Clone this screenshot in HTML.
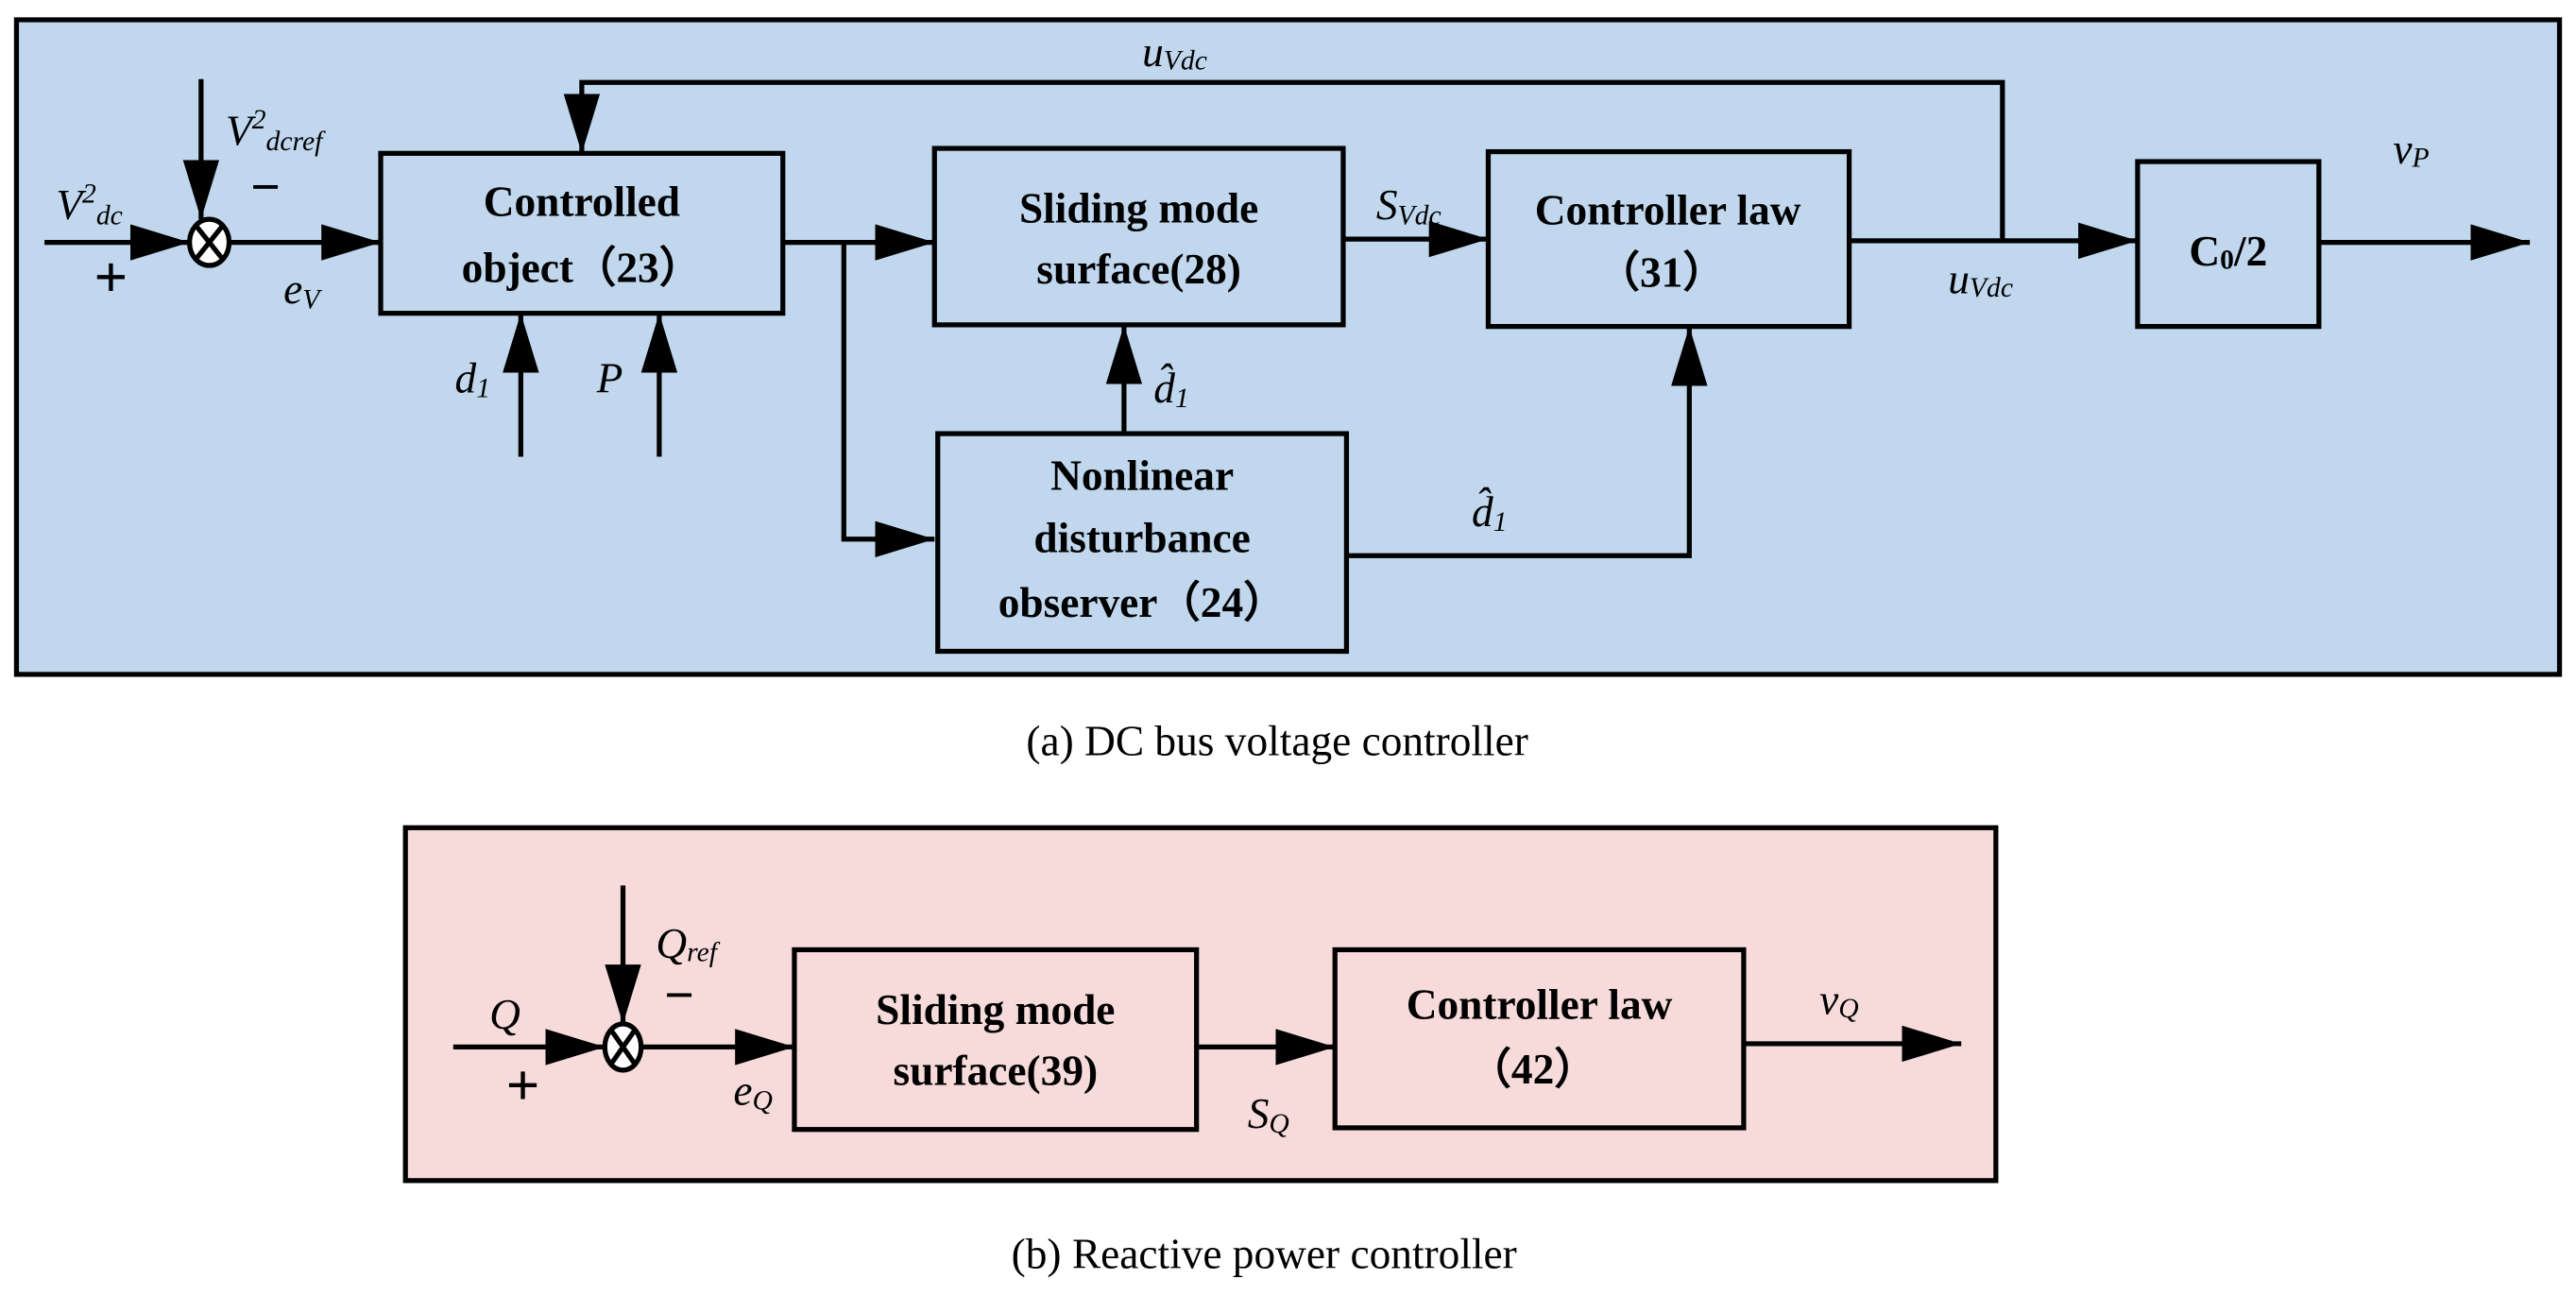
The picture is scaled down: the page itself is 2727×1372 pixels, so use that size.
<!DOCTYPE html>
<html><head><meta charset="utf-8"><style>
html,body{margin:0;padding:0;background:#fff;}
svg{display:block;}
text{font-family:"Liberation Serif",serif;}
.b{font-weight:bold;font-size:26px;text-anchor:middle;}
.i{font-style:italic;font-size:26px;}
.s{font-size:17px;}
.c{font-size:26px;text-anchor:middle;}
</style></head><body>
<svg width="2727" height="1372" viewBox="0 0 1563 786" preserveAspectRatio="none" xmlns="http://www.w3.org/2000/svg">
<defs>
<marker id="A" markerWidth="36" markerHeight="22" refX="36" refY="11" orient="auto" markerUnits="userSpaceOnUse" viewBox="0 0 36 22">
<path d="M0,0 L36,11 L0,22 Z" fill="#000"/></marker>
</defs>
<g stroke="#000" stroke-width="3" fill="none">
<rect x="10" y="12" width="1543" height="397" fill="#c0d7ee"/>
<rect x="246" y="502" width="965" height="214" fill="#f7dada"/>
<ellipse cx="127" cy="147" rx="12" ry="14" fill="#fff"/>
<path d="M119,137 L135,157 M135,137 L119,157"/>
<path d="M27,147 L115,147" marker-end="url(#A)"/>
<path d="M122,48 L122,133" marker-end="url(#A)"/>
<path d="M139,147 L231,147" marker-end="url(#A)"/>
<rect x="231" y="93" width="244" height="97"/>
<path d="M1215,147 L1215,50 L353,50 L353,93" marker-end="url(#A)"/>
<path d="M316,277 L316,190" marker-end="url(#A)"/>
<path d="M400,277 L400,190" marker-end="url(#A)"/>
<path d="M475,147 L567,147" marker-end="url(#A)"/>
<path d="M512,147 L512,327 L567,327" marker-end="url(#A)"/>
<rect x="567" y="90" width="248" height="107"/>
<rect x="569" y="263" width="248" height="132"/>
<path d="M682,263 L682,197" marker-end="url(#A)"/>
<path d="M815,145 L903,145" marker-end="url(#A)"/>
<rect x="903" y="92" width="219" height="106"/>
<path d="M817,337 L1025,337 L1025,198" marker-end="url(#A)"/>
<path d="M1122,146 L1297,146" marker-end="url(#A)"/>
<rect x="1297" y="98" width="110" height="100"/>
<path d="M1407,147 L1535,147" marker-end="url(#A)"/>
<ellipse cx="378" cy="635" rx="11" ry="14" fill="#fff"/>
<path d="M371,625 L385,645 M385,625 L371,645"/>
<path d="M275,635 L367,635" marker-end="url(#A)"/>
<path d="M378,537 L378,621" marker-end="url(#A)"/>
<path d="M389,635 L482,635" marker-end="url(#A)"/>
<rect x="482" y="576" width="244" height="109"/>
<path d="M726,635 L810,635" marker-end="url(#A)"/>
<rect x="810" y="576" width="248" height="108"/>
<path d="M1058,633 L1190,633" marker-end="url(#A)"/>
</g>
<g fill="#000">
<text x="34" y="133" class="i">V<tspan class="s" dy="-10">2</tspan><tspan class="s" dy="13">dc</tspan></text>
<text x="57" y="180" font-size="36" font-weight="bold">+</text>
<text x="137" y="88" class="i">V<tspan class="s" dy="-10">2</tspan><tspan class="s" dy="13">dcref</tspan></text>
<text x="152" y="124" font-size="32" font-weight="bold">−</text>
<text x="172" y="184" class="i">e<tspan class="s" dy="3">V</tspan></text>
<text x="353" y="131" class="b">Controlled</text>
<text x="353" y="171" class="b">object（23）</text>
<text x="276" y="238" class="i">d<tspan class="s" dy="3">1</tspan></text>
<text x="362" y="238" class="i">P</text>
<text x="693" y="40" class="i">u<tspan class="s" dy="2">Vdc</tspan></text>
<text x="691" y="135" class="b">Sliding mode</text>
<text x="691" y="172" class="b">surface(28)</text>
<text x="693" y="297" class="b">Nonlinear</text>
<text x="693" y="335" class="b">disturbance</text>
<text x="693" y="374" class="b">observer（24）</text>
<text x="700" y="244" class="i">d̂<tspan class="s" dy="3">1</tspan></text>
<text x="835" y="133" class="i">S<tspan class="s" dy="3">Vdc</tspan></text>
<text x="1012" y="136" class="b">Controller law</text>
<text x="1008" y="174" class="b">（31）</text>
<text x="893" y="319" class="i">d̂<tspan class="s" dy="3">1</tspan></text>
<text x="1182" y="178" class="i">u<tspan class="s" dy="2">Vdc</tspan></text>
<text x="1352" y="161" class="b">C<tspan font-size="17" dy="2">0</tspan><tspan dy="-2">/2</tspan></text>
<text x="1452" y="99" class="i">v<tspan class="s" dy="2">P</tspan></text>
<text x="775" y="458" class="c">(a) DC bus voltage controller</text>
<text x="297" y="624" class="i">Q</text>
<text x="307" y="670" font-size="36" font-weight="bold">+</text>
<text x="398" y="581" class="i">Q<tspan class="s" dy="2">ref</tspan></text>
<text x="403" y="614" font-size="32" font-weight="bold">−</text>
<text x="445" y="670" class="i">e<tspan class="s" dy="3">Q</tspan></text>
<text x="604" y="621" class="b">Sliding mode</text>
<text x="604" y="658" class="b">surface(39)</text>
<text x="757" y="684" class="i">S<tspan class="s" dy="3">Q</tspan></text>
<text x="934" y="618" class="b">Controller law</text>
<text x="930" y="657" class="b">（42）</text>
<text x="1104" y="615" class="i">v<tspan class="s" dy="2">Q</tspan></text>
<text x="767" y="769" class="c">(b) Reactive power controller</text>
</g>
</svg>
</body></html>
